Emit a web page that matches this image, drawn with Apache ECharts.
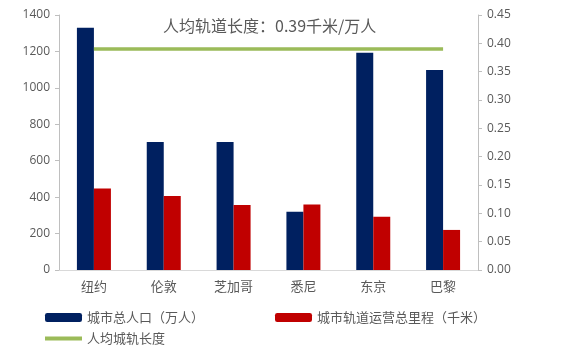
<!DOCTYPE html>
<html><head><meta charset="utf-8">
<script src="https://cdn.jsdelivr.net/npm/echarts@6/dist/echarts.min.js"></script>
<style>html,body{margin:0;padding:0;background:#fff}#c{width:561px;height:355px}</style>
</head><body><div id="c"></div>
<script>
const categories = ['纽约','伦敦','芝加哥','悉尼','东京','巴黎'];
const population = [1330, 703, 703, 320, 1193, 1098];
const railLength = [448, 406, 357, 360, 293, 220];
const perCapita = [0.39, 0.39, 0.39, 0.39, 0.39, 0.39];
const leftTicks = {min: 0, max: 1400, interval: 200};
const rightTicks = {min: 0, max: 0.45, interval: 0.05};
const titleText = '人均轨道长度：0.39千米/万人';

const chart = echarts.init(document.getElementById('c'), null, {renderer: 'canvas'});
const numFont = {color: '#595959', fontSize: 12, fontFamily: 'Open Sans'};
const cjk = '"Noto Sans CJK SC", sans-serif';
chart.setOption({
  animation: false,
  title: {text: titleText, left: 158, top: 13, textStyle: {color: '#595959', fontSize: 16, fontWeight: 'normal', fontFamily: '"Noto Sans CJK SC"'}},
  grid: {left: 59, right: 83, top: 15, bottom: 85},
  legend: [
    {data: ['城市总人口（万人）'], left: 40, top: 306, itemWidth: 37, itemHeight: 9, itemGap: 5, textStyle: {color: '#595959', fontSize: 13, fontFamily: cjk}},
    {data: ['城市轨道运营总里程（千米）'], left: 270, top: 306, itemWidth: 37, itemHeight: 9, textStyle: {color: '#595959', fontSize: 13, fontFamily: cjk}},
    {data: [{name: '人均城轨长度', icon: 'rect'}], left: 40, top: 327, itemWidth: 37, itemHeight: 4, textStyle: {color: '#595959', fontSize: 13, fontFamily: cjk}}
  ],
  xAxis: {
    type: 'category', data: categories,
    axisLine: {lineStyle: {color: '#d9d9d9', width: 1}},
    axisTick: {show: false},
    axisLabel: {color: '#595959', fontSize: 13, fontFamily: cjk, margin: 10}
  },
  yAxis: [
    {type: 'value', min: leftTicks.min, max: leftTicks.max, interval: leftTicks.interval,
     axisLine: {show: true, lineStyle: {color: '#bfbfbf'}},
     axisTick: {show: true, length: 4, lineStyle: {color: '#bfbfbf'}},
     splitLine: {show: false},
     axisLabel: Object.assign({margin: 9, formatter: v => String(v)}, numFont)},
    {type: 'value', min: rightTicks.min, max: rightTicks.max, interval: rightTicks.interval,
     axisLine: {show: true, lineStyle: {color: '#bfbfbf'}},
     axisTick: {show: true, length: 4, lineStyle: {color: '#bfbfbf'}},
     splitLine: {show: false},
     axisLabel: Object.assign({margin: 9, formatter: v => v.toFixed(2)}, numFont)}
  ],
  series: [
    {name: '城市总人口（万人）', type: 'bar', data: population, barWidth: 17, barGap: '0%', itemStyle: {color: '#002060'}},
    {name: '城市轨道运营总里程（千米）', type: 'bar', data: railLength, barWidth: 17, itemStyle: {color: '#C00000'}},
    {name: '人均城轨长度', type: 'line', yAxisIndex: 1, data: perCapita, symbol: 'none', lineStyle: {color: '#9BBB59', width: 3.5}, itemStyle: {color: '#9BBB59'}}
  ]
});
</script></body></html>
